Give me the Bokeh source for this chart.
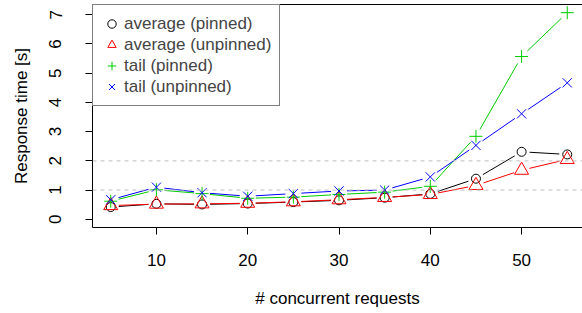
import math
from bokeh.plotting import figure
from bokeh.models import Range1d, FixedTicker, LinearAxis, Span, Legend, LegendItem
from bokeh.embed import file_html
from bokeh.resources import INLINE

# ---- data ----
requests = [5, 10, 15, 20, 25, 30, 35, 40, 45, 50, 55]
avg_pinned = [0.42, 0.53, 0.51, 0.54, 0.59, 0.65, 0.74, 0.87, 1.39, 2.31, 2.22]
avg_unpinned = [0.47, 0.52, 0.53, 0.55, 0.60, 0.67, 0.75, 0.85, 1.16, 1.68, 2.05]
tail_pinned = [0.62, 1.01, 0.88, 0.72, 0.76, 0.85, 0.93, 1.13, 2.84, 5.57, 7.07]
tail_unpinned = [0.67, 1.10, 0.91, 0.79, 0.88, 0.97, 1.00, 1.45, 2.53, 3.61, 4.67]
x_ticks = [10, 20, 30, 40, 50]
y_ticks = [0, 1, 2, 3, 4, 5, 6, 7]
ref_lines = [1, 2]
labels = ["average (pinned)", "average (unpinned)", "tail (pinned)", "tail (unpinned)"]

FONT = "Liberation Sans"
FS = "17px"

W, H = 582, 313
BL, BR, BT, BB = 92, 0, 4, 86
XR = (3, 56.67)
YR = (-0.28, 7.35)

p = figure(width=W, height=H, output_backend="svg", toolbar_location=None,
           x_range=Range1d(*XR), y_range=Range1d(*YR),
           min_border_left=BL, min_border_right=BR, min_border_top=BT, min_border_bottom=BB)
p.xgrid.visible = False
p.ygrid.visible = False
p.outline_line_color = None
p.background_fill_color = "white"
p.border_fill_color = "white"

# pixel scales for R "type b" gaps
fw = W - BL - BR
fh = H - BT - BB
sx = fw / (XR[1] - XR[0])
sy = fh / (YR[1] - YR[0])


def gapped(xs, ys, gap=8.0):
    x0, y0, x1, y1 = [], [], [], []
    for i in range(len(xs) - 1):
        dxp = (xs[i + 1] - xs[i]) * sx
        dyp = (ys[i + 1] - ys[i]) * sy
        L = math.hypot(dxp, dyp)
        if L <= 2 * gap:
            continue
        f = gap / L
        x0.append(xs[i] + f * (xs[i + 1] - xs[i]))
        y0.append(ys[i] + f * (ys[i + 1] - ys[i]))
        x1.append(xs[i + 1] - f * (xs[i + 1] - xs[i]))
        y1.append(ys[i + 1] - f * (ys[i + 1] - ys[i]))
    return x0, y0, x1, y1


for v in ref_lines:
    p.add_layout(Span(location=v, dimension="width", line_color="#c0c0c0",
                      line_dash="4 4", line_width=1))

series = [
    (avg_pinned, "black", "circle", 9),
    (avg_unpinned, "#ff0000", "triangle", 14),
    (tail_pinned, "#00cd00", "cross", 13),
    (tail_unpinned, "#0000ff", "x", 13),
]
items = []
for (ys, col, mk, sz), lab in zip(series, labels):
    x0, y0, x1, y1 = gapped(requests, ys)
    p.segment(x0, y0, x1, y1, line_color=col, line_width=1)
    r = p.scatter(requests, ys, marker=mk, size=sz, line_color=col,
                  fill_color=None, line_width=1)
    items.append(LegendItem(label=lab, renderers=[r]))

# axes
for ax in (p.xaxis[0], p.yaxis[0]):
    ax.axis_line_color = "black"
    ax.major_tick_line_color = "black"
    ax.minor_tick_line_color = None
    ax.major_tick_in = 0
    ax.major_tick_out = 7
    ax.major_label_text_font = FONT
    ax.major_label_text_font_size = FS
    ax.major_label_text_color = "black"
    ax.axis_label_text_font = FONT
    ax.axis_label_text_font_size = FS
    ax.axis_label_text_font_style = "normal"
    ax.axis_label_text_color = "black"

p.xaxis[0].ticker = FixedTicker(ticks=x_ticks)
p.yaxis[0].ticker = FixedTicker(ticks=y_ticks)
p.xaxis[0].axis_label = "# concurrent requests"
p.yaxis[0].axis_label = "Response time [s]"
p.yaxis[0].major_label_orientation = "vertical"
p.xaxis[0].major_label_standoff = 19
p.xaxis[0].axis_label_standoff = 20
p.yaxis[0].major_label_standoff = 24
p.yaxis[0].axis_label_standoff = 16

top = LinearAxis(ticker=FixedTicker(ticks=[]), major_tick_in=0, major_tick_out=0,
                 minor_tick_line_color=None, major_label_text_font_size="0px",
                 axis_line_color="black")
p.add_layout(top, "above")

legend = Legend(items=items, location="top_left", margin=0, padding=8,
                spacing=0, glyph_width=21, glyph_height=21, label_height=21,
                label_standoff=2, label_text_font=FONT, label_text_font_size=FS,
                border_line_color="black", border_line_width=1,
                background_fill_color="white", background_fill_alpha=1.0)
p.add_layout(legend)

open("out.html", "w").write(file_html(p, INLINE))
